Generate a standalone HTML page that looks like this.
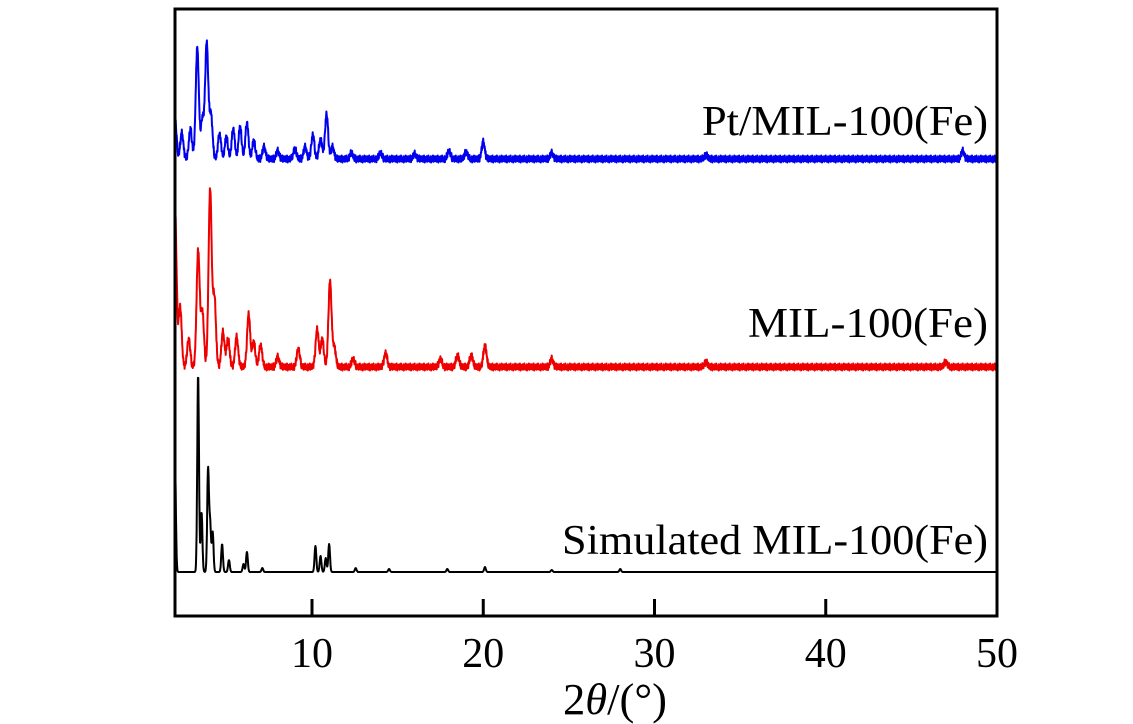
<!DOCTYPE html>
<html><head><meta charset="utf-8"><style>
html,body{margin:0;padding:0;background:#fff;}
svg{display:block;font-family:"Liberation Serif",serif;}
</style></head><body>
<svg id="chart" width="1133" height="724" viewBox="0 0 1133 724" xmlns="http://www.w3.org/2000/svg">
<g id="series"></g>
<rect x="175" y="9" width="822" height="607" fill="none" stroke="#000" stroke-width="3"/>
<g id="ticks"></g>
<text x="988" y="135" font-size="42" text-anchor="end" textLength="286" lengthAdjust="spacingAndGlyphs">Pt/MIL-100(Fe)</text>
<text x="988" y="337" font-size="42" text-anchor="end" textLength="240" lengthAdjust="spacingAndGlyphs">MIL-100(Fe)</text>
<text x="988" y="554" font-size="42" text-anchor="end" textLength="426" lengthAdjust="spacingAndGlyphs">Simulated MIL-100(Fe)</text>
<text x="615" y="714" font-size="44" text-anchor="middle" textLength="104" lengthAdjust="spacingAndGlyphs">2<tspan font-style="italic">θ</tspan>/(°)</text>
</svg>
<script>
const xTicks = [10, 20, 30, 40, 50];
const xTickLabels = ["10", "20", "30", "40", "50"];
// peaks: [2theta, intensity above baseline]
const bluePeaks = [[2.0,40],[2.4,26],[2.9,30],[3.3,112],[3.6,40],[3.85,116],[4.1,45],[4.6,25],[5.0,22],[5.4,30],[5.8,32],[6.2,36],[6.6,18],[7.2,12],[8.0,8],[9.0,10],[9.6,12],[10.05,24],[10.5,20],[10.85,45],[11.2,12],[12.3,6],[14.0,6],[16.0,5],[18.0,8],[19.0,7],[20.0,17],[24.0,6],[33.0,4],[48.0,8]];
const redPeaks = [[2.0,160],[2.3,60],[2.8,28],[3.35,116],[3.6,55],[4.05,178],[4.3,70],[4.8,35],[5.1,28],[5.6,30],[6.3,53],[6.6,25],[7.0,22],[8.0,10],[9.2,18],[10.3,38],[10.6,28],[11.05,86],[11.3,20],[12.4,8],[14.3,14],[17.5,8],[18.5,12],[19.3,12],[20.1,22],[24.0,8],[33.0,5],[47.0,5]];
const blackPeaks = [[2.0,111],[3.35,198],[3.55,60],[3.93,103],[4.05,49],[4.2,40],[4.75,28],[5.15,12],[6.0,8],[6.2,20],[7.1,4],[10.2,26],[10.5,16],[10.8,14],[11.0,28],[12.55,4],[14.5,3],[17.9,3],[20.1,5],[24.0,2],[28.0,3]];
// measured-look detector noise pattern (px), read as texture from the picture
const noisePattern = [2,-3,4,-1,-4,3,0,5,-2,-5,1,3,-3,2,-1,4,-4,0,3,-2,5,-3,1,-4,2,0,-2,4,-5,3,-1,2,-3,5,-2,-4,1,4,-1,-3];
const blueBase = 159, redBase = 367, blackBase = 572;

const NS = "http://www.w3.org/2000/svg";
const X0 = 2, X1 = 50, PX0 = 175, PX1 = 997;
function xScale(v){ return PX0 + (v - X0) / (X1 - X0) * (PX1 - PX0); }
function yScale(base, v){ return base - v; }

function profile(peaks, sigma, noisy){
  const pts = [];
  let k = 0;
  for (let t = X0; t <= X1 + 1e-9; t += 0.02, k++) {
    let s = 0;
    for (const p of peaks) { const d = (t - p[0]) / sigma; if (Math.abs(d) < 6) s += p[1] * Math.exp(-0.5 * d * d); }
    if (noisy) s += noisePattern[k % noisePattern.length] * 0.7;
    pts.push([t, s]);
  }
  return pts;
}
const g = document.getElementById('series');
function draw(peaks, base, color, width, sigma, noisy, name){
  const pts = profile(peaks, sigma, noisy);
  const d = pts.map((p, i) => (i ? 'L' : 'M') + xScale(p[0]).toFixed(1) + ' ' + yScale(base, p[1]).toFixed(1)).join('');
  const path = document.createElementNS(NS, 'path');
  path.setAttribute('d', d);
  path.setAttribute('fill', 'none');
  path.setAttribute('stroke', color);
  path.setAttribute('stroke-width', width);
  path.setAttribute('stroke-linejoin', 'round');
  
  
  g.appendChild(path);
}
draw(bluePeaks, blueBase, '#0000ee', 2, 0.09, true, 'series-pt-mil-100');
draw(redPeaks, redBase, '#ee0000', 2, 0.09, true, 'series-mil-100');
draw(blackPeaks, blackBase, '#000', 2, 0.05, false, 'series-simulated');

const tg = document.getElementById('ticks');
xTicks.forEach((v, i) => {
  const ln = document.createElementNS(NS, 'line');
  ln.setAttribute('x1', xScale(v)); ln.setAttribute('x2', xScale(v));
  ln.setAttribute('y1', 616); ln.setAttribute('y2', 599);
  ln.setAttribute('stroke', '#000'); ln.setAttribute('stroke-width', 3);
  
  
  tg.appendChild(ln);
  const tx = document.createElementNS(NS, 'text');
  tx.setAttribute('x', xScale(v)); tx.setAttribute('y', 667);
  tx.setAttribute('font-size', 42); tx.setAttribute('text-anchor', 'middle');
  tx.textContent = xTickLabels[i];
  
  
  tg.appendChild(tx);
});
</script>
</body></html>
